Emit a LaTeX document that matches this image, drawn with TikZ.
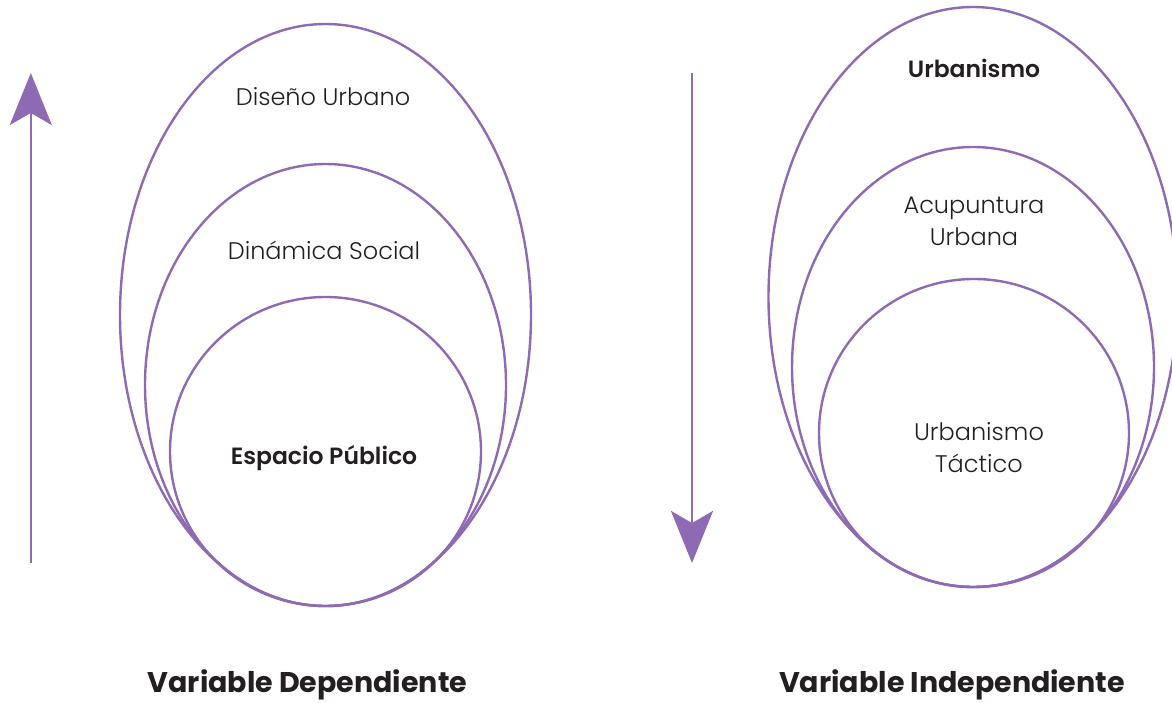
\documentclass[tikz,border=0pt]{standalone}
\usepackage{fontspec}
\setmainfont{Poppins}
\newfontfamily\plight{Poppins Light}
\newfontfamily\psemi{Poppins SemiBold}
\usetikzlibrary{arrows.meta,shapes.geometric}
\definecolor{lav}{RGB}{142,106,180}
\definecolor{ink}{RGB}{35,31,32}
\begin{document}
\begin{tikzpicture}[x=1pt,y=-1pt,
  ring/.style={draw=lav,line width=2.4pt,shape=ellipse,inner sep=0pt},
  lbl/.style={text=ink,font=\plight\fontsize{24}{32}\selectfont,align=center,inner sep=0pt},
  blbl/.style={text=ink,font=\psemi\fontsize{23.5}{30}\selectfont,align=center,inner sep=0pt},
  title/.style={text=ink,font=\bfseries\fontsize{28.5}{32}\selectfont,inner sep=0pt},
  flow/.style={draw=lav,line width=2.5pt,-{Stealth[length=52pt,width=42pt,inset=12pt]}}]
\useasboundingbox (0,0) rectangle (1172,703);
% left group
\node[ring,minimum width=411pt,minimum height=582pt] (lo) at (325.5,315) {};
\node[ring,minimum width=361pt,minimum height=442pt] (lm) at (325.5,385) {};
\node[ring,minimum width=311pt,minimum height=309pt] (li) at (325.5,451.5) {};
\node[lbl] (t1) at (323,97) {Diseño Urbano};
\node[lbl] (t2) at (324,250) {Dinámica Social};
\node[blbl] (t3) at (324,458) {Espacio Público};
\node[title] (t4) at (307.5,685) {Variable Dependiente};
\coordinate (la1) at (30.8,563);
\coordinate (la2) at (30.8,73);
\draw[flow] (la1) -- (la2);
% right group
\node[ring,minimum width=409pt,minimum height=580pt] (ro) at (973,297) {};
\node[ring,minimum width=362pt,minimum height=440pt] (rm) at (973,367) {};
\node[ring,minimum width=310pt,minimum height=308pt] (ri) at (974,433) {};
\node[blbl] (r1) at (974,68) {Urbanismo};
\node[lbl] (r2) at (974,221) {Acupuntura\\Urbana};
\node[lbl] (r3) at (979,448) {Urbanismo\\Táctico};
\node[title] (r4) at (952,685) {Variable Independiente};
\coordinate (ra1) at (692,73);
\coordinate (ra2) at (692,563);
\draw[flow] (ra1) -- (ra2);
\end{tikzpicture}
\end{document}
